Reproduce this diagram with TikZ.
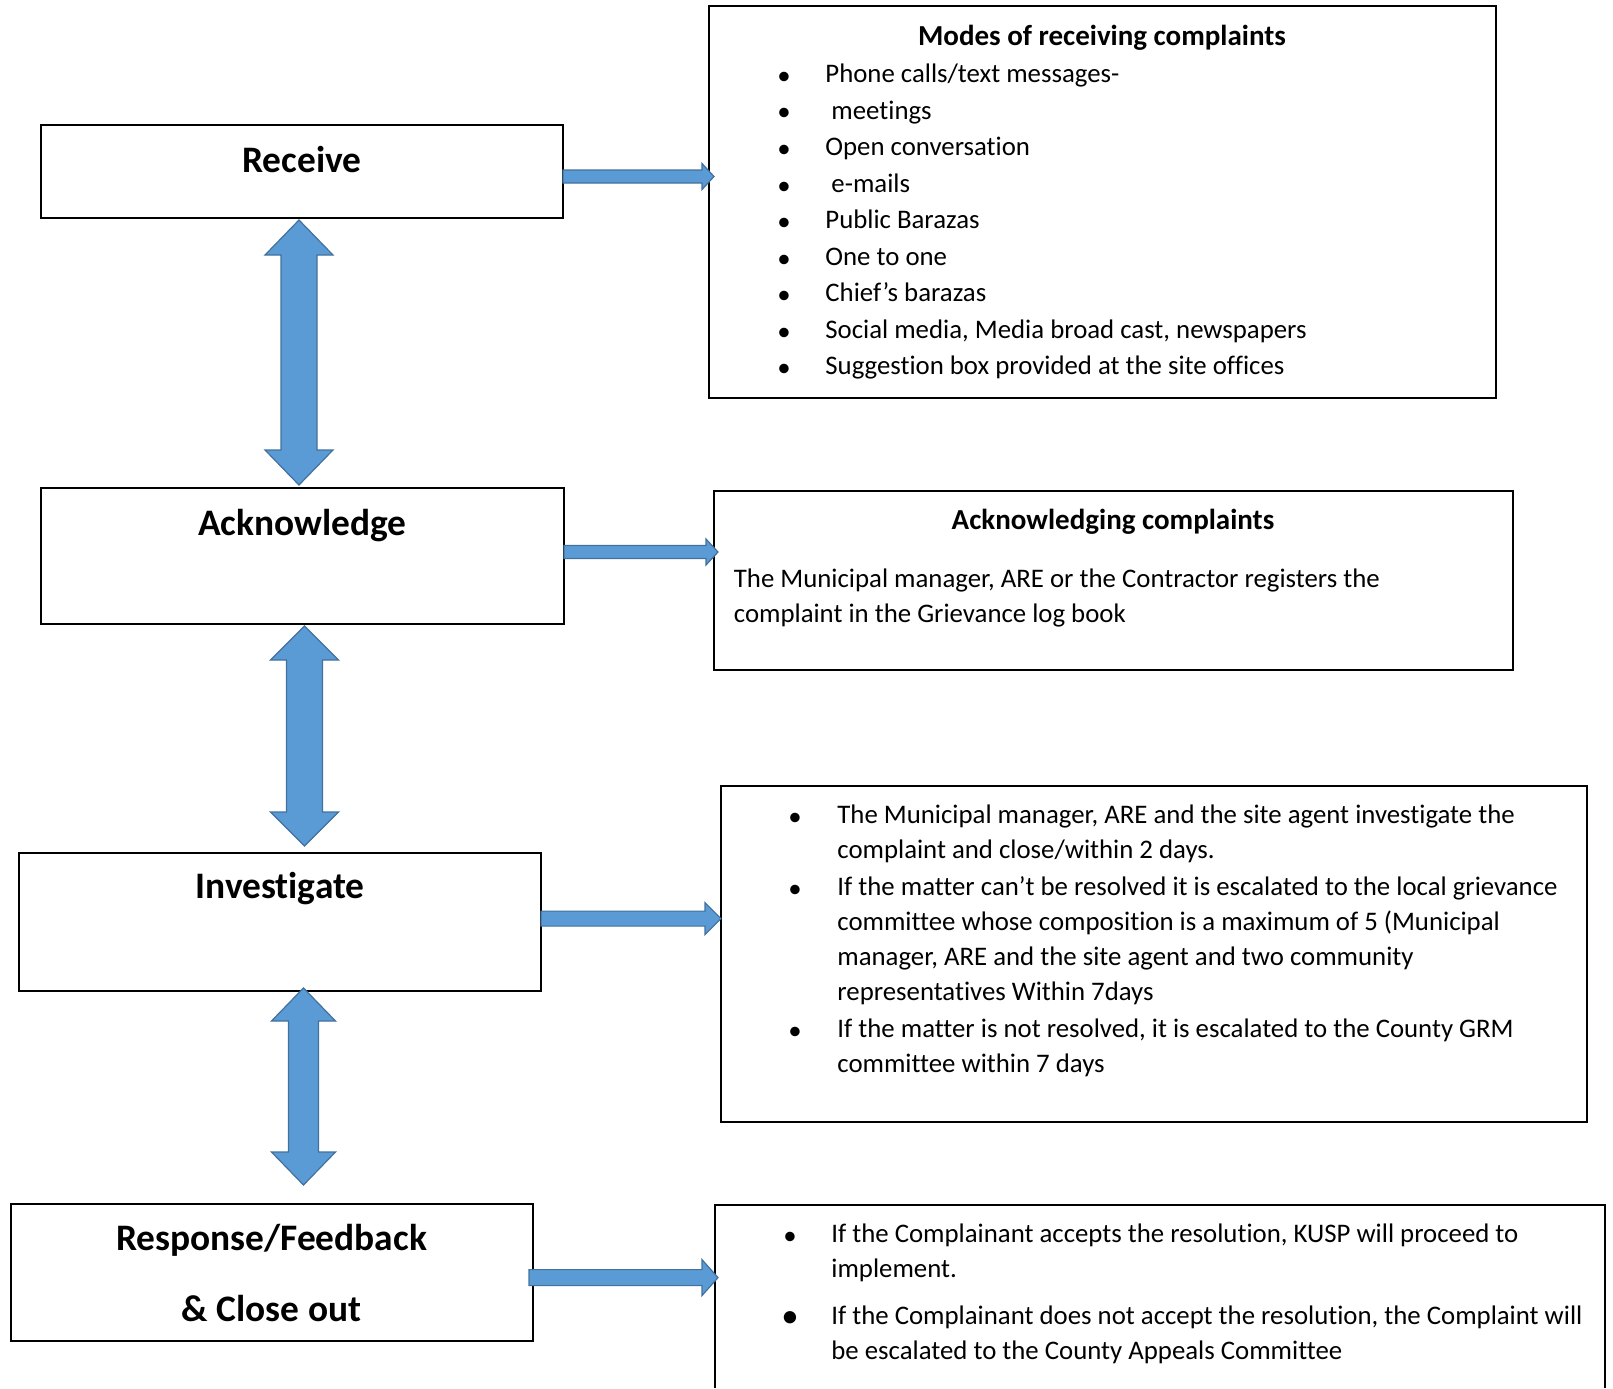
\documentclass[tikz,border=0pt]{standalone}
\usepackage{fontspec}
\setmainfont[RawFeature={-liga;-clig;-calt;-dlig}]{Carlito}
\definecolor{arrfill}{HTML}{5B9BD5}
\definecolor{arrline}{HTML}{41719C}
\begin{document}
\begin{tikzpicture}[x=0.5pt,y=-0.5pt,
  box/.style={draw=black,line width=0.9pt,inner sep=0pt},
  big/.style={font=\fontsize{18.7}{22}\selectfont\bfseries,inner sep=0pt},
  body/.style={font=\fontsize{13.4}{16}\selectfont,inner sep=0pt,anchor=mid west},
  ttl/.style={font=\fontsize{14.5}{17}\selectfont\bfseries,inner sep=0pt},
  bul/.style={font=\fontsize{13.4}{16}\selectfont,inner sep=0pt},
  blk/.style={fill=arrfill,draw=arrline,line width=0.6pt,line join=miter}]
\useasboundingbox (0,0) rectangle (1613,1388);
% left boxes
\node[box,minimum width=261pt,minimum height=46.5pt] (rec) at (302,171.5) {};
\node[box,minimum width=261.5pt,minimum height=68pt] (ack) at (302.5,556) {};
\node[box,minimum width=261pt,minimum height=69pt] (inv) at (280,922) {};
\node[box,minimum width=261pt,minimum height=68.5pt] (resp) at (272,1272.5) {};
% right boxes
\node[box,minimum width=393.5pt,minimum height=196pt] (modes) at (1102.5,202) {};
\node[box,minimum width=399.5pt,minimum height=89.5pt] (ackb) at (1113.5,580.5) {};
\node[box,minimum width=433pt,minimum height=168pt] (invb) at (1154,954) {};
\coordinate (rb1) at (715,1388);
\coordinate (rb2) at (715,1205);
\coordinate (rb3) at (1605,1205);
\coordinate (rb4) at (1605,1388);
\draw[line width=0.9pt] (rb1) -- (rb2) -- (rb3) -- (rb4);
% labels
\node[big] (trec) at (302,160) {Receive};
\node[big] (tack) at (302.5,525.6) {Acknowledge};
\node[big] (tinv) at (280,889) {Investigate};
\node[big] (tresp1) at (271.6,1240.5) {Response/Feedback};
\node[big] (tresp2) at (271.6,1308.5) {\&\ Close out};
% modes box
\node[ttl] (mt) at (1102,38) {Modes of receiving complaints};
\foreach \yy/\tx [count=\i] in {78/{Phone calls/text messages-},114.6/{\ meetings},151/{Open conversation},188/{\ e-mails},224/{Public Barazas},261/{One to one},297/{Chief’s barazas},334/{Social media, Media broad cast, newspapers},370/{Suggestion box provided at the site offices}}{
  \node[bul] (mb\i) at (784,\yy) {•};
  \node[body] (m\i) at (825,\yy) {\tx};
}
% acknowledging box
\node[ttl] (at) at (1113,521.5) {Acknowledging complaints};
\node[body] (a1) at (733.5,583) {The Municipal manager, ARE or the Contractor registers the};
\node[body] (a2) at (733.5,618) {complaint in the Grievance log book};
% investigate box
\node[bul] (ib1) at (795,819) {•};
\node[bul] (ib2) at (795,891) {•};
\node[bul] (ib3) at (795,1033) {•};
\node[body] (i1) at (837,819) {The Municipal manager, ARE and the site agent investigate the};
\node[body] (i2) at (837,854) {complaint and close/within 2 days.};
\node[body] (i3) at (837,891) {If the matter can’t be resolved it is escalated to the local grievance};
\node[body] (i4) at (837,926) {committee whose composition is a maximum of 5 (Municipal};
\node[body] (i5) at (837,961) {manager, ARE and the site agent and two community};
\node[body] (i6) at (837,996) {representatives Within 7days};
\node[body] (i7) at (837,1033) {If the matter is not resolved, it is escalated to the County GRM};
\node[body] (i8) at (837,1068) {committee within 7 days};
% response box
\node[bul] (rbl1) at (790,1238) {•};
\node[bul,scale=1.3] (rbl2) at (790,1320) {•};
\node[body] (r1) at (831,1238) {If the Complainant accepts the resolution, KUSP will proceed to};
\node[body] (r2) at (831,1273) {implement.};
\node[body] (r3) at (831,1320) {If the Complainant does not accept\ the resolution, the Complaint will};
\node[body] (r4) at (831,1355) {be escalated to the County Appeals Committee};
% horizontal block arrows: x1, x2(tip), y, shaft half, head half, head length
\newcommand\harr[6]{\draw[blk] (#1,#3-#4) -- (#2-#6,#3-#4) -- (#2-#6,#3-#5) -- (#2,#3) -- (#2-#6,#3+#5) -- (#2-#6,#3+#4) -- (#1,#3+#4) -- cycle;}
% vertical double arrows: x, y1(top tip), y2(bottom tip), shaft half, head half, head length
\newcommand\varr[6]{\draw[blk] (#1,#2) -- (#1+#5,#2+#6) -- (#1+#4,#2+#6) -- (#1+#4,#3-#6) -- (#1+#5,#3-#6) -- (#1,#3) -- (#1-#5,#3-#6) -- (#1-#4,#3-#6) -- (#1-#4,#2+#6) -- (#1-#5,#2+#6) -- cycle;}
\harr{563}{714}{176.5}{6.5}{13}{12}
\harr{564}{718}{552}{6.5}{13}{12}
\harr{541}{721}{918.6}{7.5}{16}{16}
\harr{529}{718}{1277.6}{8}{18}{16}
\varr{299}{220}{485}{18}{34}{35}
\varr{304.5}{626}{846}{18}{34}{34}
\varr{303.5}{988}{1185}{15}{32}{33}
\end{tikzpicture}
\end{document}
